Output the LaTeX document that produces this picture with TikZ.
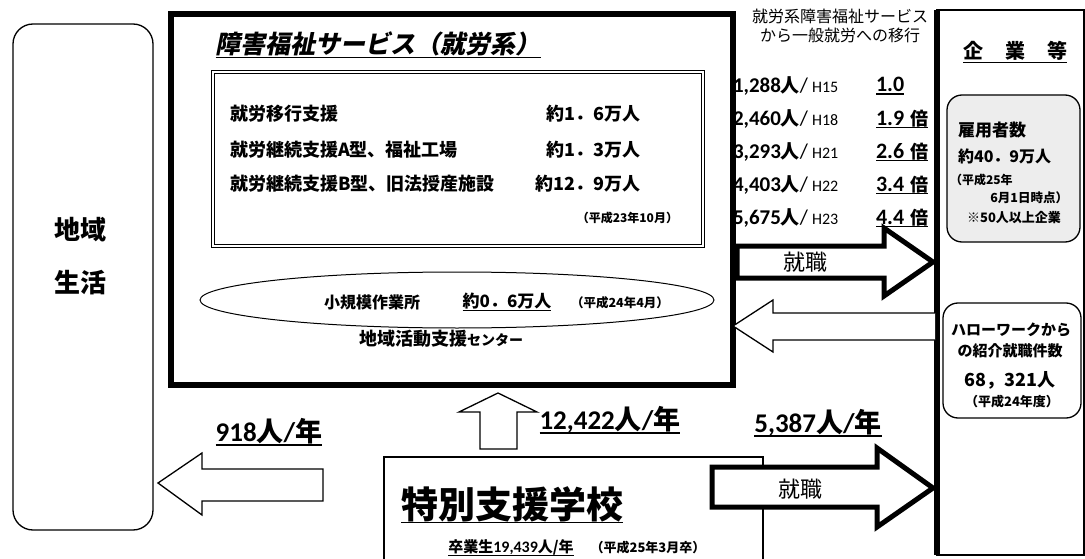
\documentclass[tikz,border=0pt]{standalone}
\usepackage{fontspec}
\setmainfont{Noto Sans CJK JP}
\newfontfamily\slantjp[FakeSlant=0.2]{Noto Sans CJK JP}
\newfontfamily\lat{Carlito}
\usetikzlibrary{shapes.geometric}
\newcommand\fs[1]{\fontsize{#1}{#1}\selectfont}
\newcommand\ulx[3]{\setbox0=\hbox{#3}\rlap{\rule[-#1]{\wd0}{#2}}\box0}
\begin{document}
\begin{tikzpicture}[x=1pt,y=-1pt,
  every node/.style={inner sep=0pt, outer sep=0pt},
  frame/.style={draw, line width=1.3pt},
  heavy/.style={draw, line width=6pt},
  rbox/.style={draw, line width=1.3pt, rounded corners=15pt},
  barrow/.style={draw, line width=5pt, fill=white, line join=miter, miter limit=10},
  warrow/.style={draw, line width=1.3pt, fill=white, line join=miter, miter limit=10},
  row/.style={font=\fs{18}\bfseries},
  big/.style={font=\fs{27}\bfseries}]
\useasboundingbox (0,0) rectangle (1085,559);
\fill[white] (0,0) rectangle (1085,559);

% left box
\node[frame, rounded corners=20pt, minimum width=140pt, minimum height=506pt] (seikatsu) at (83,277) {};
\node[font=\fs{26}\bfseries] (seikatsuA) at (80,230) {地域};
\node[font=\fs{26}\bfseries] (seikatsuB) at (80,283) {生活};

% big box
\node[heavy, minimum width=562pt, minimum height=371pt] (fukushi) at (452,199.5) {};
\node[font=\slantjp\bfseries\fs{25}] (ftitle) at (378,45) {\ulx{5pt}{1.5pt}{障害福祉サービス（就労系）}};
\node[draw, double, line width=0.7pt, double distance=2.2pt, minimum width=490pt, minimum height=174pt] (services) at (458,159) {};
\node[row, anchor=west] (s1) at (230,114) {就労移行支援};
\node[row, anchor=west] (s2) at (230,150) {就労継続支援A型、福祉工場};
\node[row, anchor=west] (s3) at (230,184) {就労継続支援B型、旧法授産施設};
\node[row, anchor=east] (n1) at (640,114) {約1．6万人};
\node[row, anchor=east] (n2) at (640,150) {約1．3万人};
\node[row, anchor=east] (n3) at (640,184) {約12．9万人};
\node[font=\fs{12}\bfseries, anchor=east] (sdate) at (678,218) {（平成23年10月）};

\node[draw, ellipse, line width=1pt, minimum width=514pt, minimum height=56pt] (sagyo) at (457,300) {};
\node[font=\fs{16}\bfseries] (sagyoA) at (372,302) {小規模作業所};
\node[font=\fs{17}\bfseries] (sagyoB) at (507,302) {\ulx{3pt}{1pt}{約0．6万人}};
\node[font=\fs{12.5}\bfseries] (sagyoC) at (620,303) {（平成24年4月）};
\node[font=\bfseries] (center) at (441,339) {{\fs{18}地域活動支援}{\fs{14}センター}};

% right column
\node[font=\fs{16}] (ikoA) at (840,16) {就労系障害福祉サービス};
\node[font=\fs{16}] (ikoB) at (840,35) {から一般就労への移行};
\foreach \y/\n/\h [count=\i] in {86/1{,}288/H15, 119/2{,}460/H18, 152/3{,}293/H21, 185/4{,}403/H22, 218/5{,}675/H23}{
  \node[anchor=west] (yr\i) at (733,\y) {{\lat\bfseries\fs{21}\n}{\bfseries\fs{19}人}{\lat\fs{21}/}\hspace{4pt}{\lat\fs{16}\h}};
}
\node[anchor=west] (rt1) at (876,86) {\ulx{3pt}{1.3pt}{\lat\bfseries\fs{22}1.0}};
\foreach \y/\r [count=\i from 2] in {119/1.9, 152/2.6, 185/3.4, 218/4.4}{
  \node[anchor=west] (rt\i) at (876,\y) {\ulx{3pt}{1.3pt}{{\lat\bfseries\fs{22}\r}\hspace{6pt}{\bfseries\fs{18}倍}}};
}

% companies box
\node[draw, line width=2.5pt, minimum width=147pt, minimum height=545pt] (kigyo) at (1010.5,282.5) {};
\draw[line width=6pt] (kigyo.north west) -- (kigyo.south west);
\node[font=\fs{20}\bfseries] (ktitle) at (1015,52) {\ulx{5pt}{1.5pt}{企\hspace{22pt}業\hspace{22pt}等}};
\node[rbox, fill=black!7, minimum width=133pt, minimum height=147pt] (koyo) at (1013.5,168.5) {};
\node[font=\fs{17}\bfseries, anchor=west] (koyoA) at (958,130) {雇用者数};
\node[font=\fs{16}\bfseries, anchor=west] (koyoB) at (958,156) {約40．9万人};
\node[font=\fs{12}\bfseries, anchor=west] (koyoC) at (950,180) {（平成25年};
\node[font=\fs{12.5}\bfseries, anchor=east] (koyoD) at (1068,198) {6月1日時点）};
\node[font=\fs{13}\bfseries] (koyoE) at (1014,218) {※50人以上企業};
\node[rbox, minimum width=138pt, minimum height=115pt] (hw) at (1012,360.5) {};
\node[font=\fs{15}\bfseries] (hwA) at (1011,330) {ハローワークから};
\node[font=\fs{15}\bfseries] (hwB) at (1010,351) {の紹介就職件数};
\node[font=\fs{18}\bfseries] (hwC) at (1010,380) {68，321人};
\node[font=\fs{13}\bfseries] (hwD) at (1012,402) {（平成24年度）};

% school box
\node[frame, minimum width=379pt, minimum height=130pt] (gakko) at (573.5,522) {};
\node[font=\fs{37}\bfseries] (gakkoA) at (512,505) {\ulx{5pt}{1.8pt}{特別支援学校}};
\node[font=\fs{15}\bfseries] (gakkoB) at (511,548) {\ulx{3pt}{1pt}{卒業生{\lat\bfseries\fs{16}19,439}人/年}};
\node[font=\fs{13}\bfseries] (gakkoC) at (648,548) {（平成25年3月卒）};

% block arrows
\draw[barrow] (737,246) -- (884,246) -- (884,228) -- (933,262) -- (884,296) -- (884,278) -- (737,278) -- cycle;
\node[font=\fs{22}] (shuA) at (805,262) {就職};
\draw[warrow] (935,313) -- (773,313) -- (773,300) -- (733,326) -- (773,352) -- (773,340) -- (935,340);
\draw[barrow] (712,467) -- (877,467) -- (877,448) -- (933,488) -- (877,527) -- (877,507) -- (712,507) -- cycle;
\node[font=\fs{22}] (shuB) at (800,489) {就職};
\draw[warrow] (480,449) -- (480,412) -- (459,412) -- (498,393) -- (537,412) -- (517,412) -- (517,449) -- cycle;
\draw[warrow] (323,469) -- (202,469) -- (202,453) -- (158,483) -- (202,515) -- (202,501) -- (323,501) -- cycle;

% flow labels
\node[big] (lbA) at (269,432) {\ulx{4pt}{1.6pt}{{\lat\bfseries 918}人{\lat\bfseries /}年}};
\node[big] (lbB) at (610,420) {\ulx{4pt}{1.6pt}{{\lat\bfseries 12,422}人{\lat\bfseries /}年}};
\node[big] (lbC) at (818,423) {\ulx{4pt}{1.6pt}{{\lat\bfseries 5,387}人{\lat\bfseries /}年}};
\end{tikzpicture}
\end{document}
